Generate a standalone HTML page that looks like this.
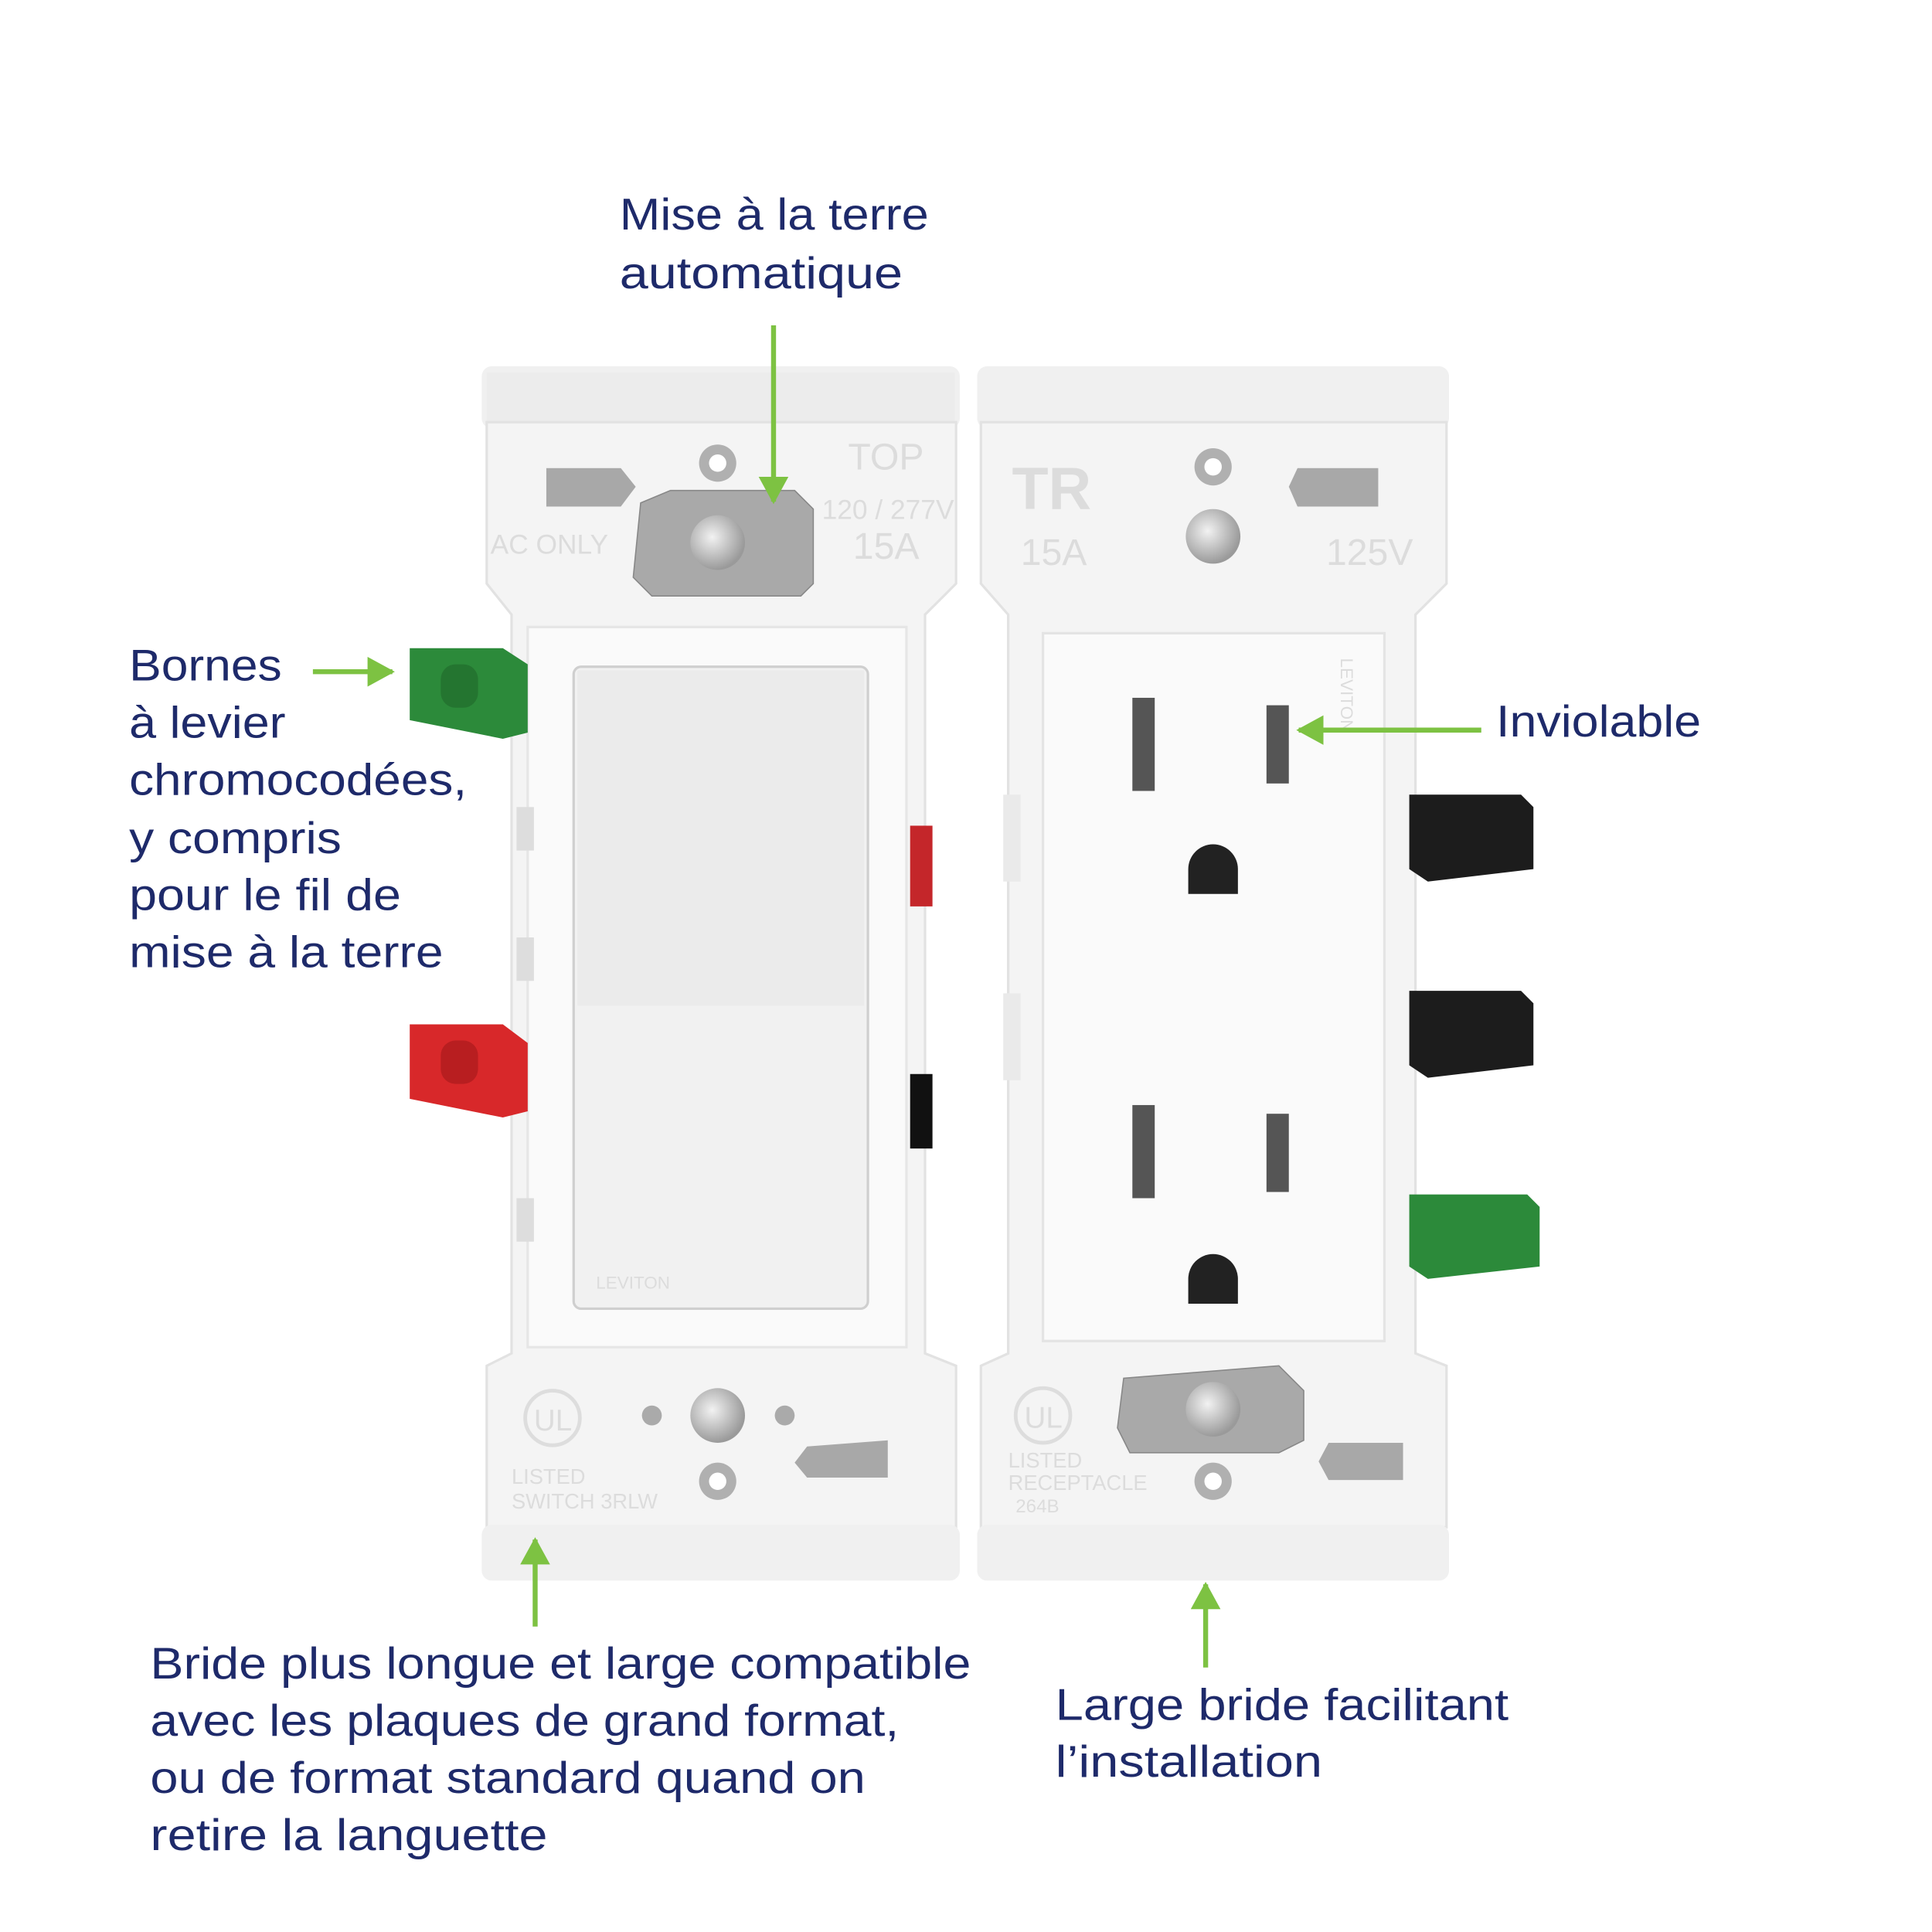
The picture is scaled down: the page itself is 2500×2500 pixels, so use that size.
<!DOCTYPE html>
<html><head><meta charset="utf-8"><style>
html,body{margin:0;padding:0;background:#fff}
svg{display:block}
text{font-family:"Liberation Sans",sans-serif;fill:#1e2a6a}
.lbl{font-size:36px}
.emb{font-family:"Liberation Sans",sans-serif;fill:#dcdcdc}
</style></head><body>
<svg width="2500" height="2500" viewBox="0 0 1556 1556" xmlns="http://www.w3.org/2000/svg">
<rect width="1556" height="1556" fill="#fff"/>
<defs>
<marker id="ah" markerWidth="6" markerHeight="6" refX="5" refY="3" orient="auto" markerUnits="strokeWidth">
<path d="M0,0 L5.5,3 L0,6 Z" fill="#7dc242"/></marker>
<radialGradient id="scr" cx="0.4" cy="0.4" r="0.6"><stop offset="0" stop-color="#f2f2f2"/><stop offset="1" stop-color="#9a9a9a"/></radialGradient>
</defs>

<!-- LEFT SWITCH -->
<g>
<rect x="388" y="295" width="385" height="50" rx="8" fill="#f0f0f0"/>
<rect x="392" y="300" width="377" height="40" fill="#ececec"/>
<path d="M392,340 L770,340 L770,470 L745,495 L745,1090 L770,1100 L770,1230 L392,1230 L392,1100 L412,1090 L412,495 L392,470 Z" fill="#f4f4f4" stroke="#e2e2e2" stroke-width="2"/>
<rect x="388" y="1228" width="385" height="45" rx="8" fill="#f0f0f0"/>
<rect x="425" y="505" width="305" height="580" fill="#fafafa" stroke="#e6e6e6" stroke-width="2"/>
<rect x="462" y="537" width="237" height="517" rx="6" fill="#f1f1f1" stroke="#cfcfcf" stroke-width="2"/>
<rect x="465" y="540" width="231" height="270" fill="#ebebeb"/>
<text x="480" y="1038" font-size="14" class="emb" fill="#d8d8d8">LEVITON</text>
<path d="M516,405 L540,395 L640,395 L655,410 L655,470 L645,480 L525,480 L510,465 Z" fill="#a9a9a9" stroke="#888"/>
<circle cx="578" cy="373" r="15" fill="#b0b0b0"/><circle cx="578" cy="373" r="7" fill="#fff"/>
<circle cx="578" cy="437" r="22" fill="url(#scr)"/>
<path d="M440,377 L500,377 L512,392 L500,408 L440,408 Z" fill="#a8a8a8"/>
<text x="395" y="446" font-size="22" class="emb">AC ONLY</text>
<text x="683" y="378" font-size="30" class="emb">TOP</text>
<text x="662" y="418" font-size="22" class="emb">120 / 277V</text>
<text x="687" y="450" font-size="30" class="emb">15A</text>
<circle cx="578" cy="1140" r="22" fill="url(#scr)"/>
<circle cx="578" cy="1193" r="15" fill="#b0b0b0"/><circle cx="578" cy="1193" r="7" fill="#fff"/>
<circle cx="525" cy="1140" r="8" fill="#aaa"/><circle cx="632" cy="1140" r="8" fill="#aaa"/>
<path d="M650,1165 L715,1160 L715,1190 L650,1190 L640,1178 Z" fill="#a8a8a8"/>
<circle cx="445" cy="1142" r="22" fill="none" stroke="#ddd" stroke-width="3"/>
<text x="430" y="1152" font-size="24" class="emb">UL</text>
<text x="412" y="1195" font-size="17" class="emb">LISTED</text>
<text x="412" y="1215" font-size="17" class="emb">SWITCH 3RLW</text>
<path d="M330,522 L405,522 L425,535 L425,590 L405,595 L330,580 Z" fill="#2c8a3a"/>
<rect x="355" y="535" width="30" height="35" rx="12" fill="#247530"/>
<path d="M330,825 L405,825 L425,840 L425,895 L405,900 L330,885 Z" fill="#d8282a"/>
<rect x="355" y="838" width="30" height="35" rx="12" fill="#b81e20"/>
<rect x="733" y="665" width="18" height="65" fill="#c4262a"/>
<rect x="733" y="865" width="18" height="60" fill="#111"/>
<rect x="416" y="650" width="14" height="35" fill="#ddd"/><rect x="416" y="755" width="14" height="35" fill="#ddd"/>
<rect x="416" y="965" width="14" height="35" fill="#ddd"/>
</g>

<!-- RIGHT RECEPTACLE -->
<g>
<rect x="787" y="295" width="380" height="50" rx="8" fill="#f0f0f0"/>
<path d="M790,340 L1165,340 L1165,470 L1140,495 L1140,1090 L1165,1100 L1165,1230 L790,1230 L790,1100 L812,1090 L812,495 L790,470 Z" fill="#f4f4f4" stroke="#e2e2e2" stroke-width="2"/>
<rect x="787" y="1228" width="380" height="45" rx="8" fill="#f0f0f0"/>
<rect x="840" y="510" width="275" height="570" fill="#fafafa" stroke="#e4e4e4" stroke-width="2"/>
<rect x="912" y="562" width="18" height="75" fill="#555"/>
<rect x="1020" y="568" width="18" height="63" fill="#555"/>
<path d="M957,720 L957,700 A20,20 0 0 1 997,700 L997,720 Z" fill="#222"/>
<rect x="912" y="890" width="18" height="75" fill="#555"/>
<rect x="1020" y="897" width="18" height="63" fill="#555"/>
<path d="M957,1050 L957,1030 A20,20 0 0 1 997,1030 L997,1050 Z" fill="#222"/>
<text x="0" y="0" font-size="14" class="emb" transform="translate(1080,530) rotate(90)">LEVITON</text>
<circle cx="977" cy="376" r="15" fill="#b0b0b0"/><circle cx="977" cy="376" r="7" fill="#fff"/>
<circle cx="977" cy="432" r="22" fill="url(#scr)"/>
<path d="M1045,377 L1110,377 L1110,408 L1045,408 L1038,392 Z" fill="#a8a8a8"/>
<text x="815" y="410" font-size="48" class="emb" font-weight="bold">TR</text>
<text x="822" y="455" font-size="30" class="emb">15A</text>
<text x="1068" y="455" font-size="30" class="emb">125V</text>
<path d="M905,1110 L1030,1100 L1050,1120 L1050,1160 L1030,1170 L910,1170 L900,1150 Z" fill="#a9a9a9" stroke="#888"/>
<circle cx="977" cy="1135" r="22" fill="url(#scr)"/>
<circle cx="977" cy="1193" r="15" fill="#b0b0b0"/><circle cx="977" cy="1193" r="7" fill="#fff"/>
<path d="M1070,1162 L1130,1162 L1130,1192 L1070,1192 L1062,1177 Z" fill="#a8a8a8"/>
<circle cx="840" cy="1140" r="22" fill="none" stroke="#ddd" stroke-width="3"/>
<text x="825" y="1150" font-size="24" class="emb">UL</text>
<text x="812" y="1182" font-size="17" class="emb">LISTED</text>
<text x="812" y="1200" font-size="17" class="emb">RECEPTACLE</text>
<text x="818" y="1218" font-size="15" class="emb">264B</text>
<path d="M1135,640 L1225,640 L1235,650 L1235,700 L1150,710 L1135,700 Z" fill="#1c1c1c"/>
<path d="M1135,798 L1225,798 L1235,808 L1235,858 L1150,868 L1135,858 Z" fill="#1c1c1c"/>
<path d="M1135,962 L1230,962 L1240,972 L1240,1020 L1150,1030 L1135,1020 Z" fill="#2c8a3a"/>
<rect x="808" y="640" width="14" height="70" fill="#eaeaea"/><rect x="808" y="800" width="14" height="70" fill="#eaeaea"/>
</g>

<!-- arrows -->
<g stroke="#7dc242" stroke-width="4" fill="none">
<line x1="623" y1="262" x2="623" y2="404" marker-end="url(#ah)"/>
<line x1="252" y1="541" x2="316" y2="541" marker-end="url(#ah)"/>
<line x1="1193" y1="588" x2="1046" y2="588" marker-end="url(#ah)"/>
<line x1="431" y1="1310" x2="431" y2="1240" marker-end="url(#ah)"/>
<line x1="971" y1="1343" x2="971" y2="1276" marker-end="url(#ah)"/>
</g>

<!-- labels -->
<text class="lbl" x="499" y="185" textLength="249" lengthAdjust="spacingAndGlyphs">Mise à la terre</text>
<text class="lbl" x="499" y="232" textLength="228" lengthAdjust="spacingAndGlyphs">automatique</text>
<text class="lbl" x="104" y="548" textLength="123" lengthAdjust="spacingAndGlyphs">Bornes</text>
<text class="lbl" x="104" y="594" textLength="126" lengthAdjust="spacingAndGlyphs">à levier</text>
<text class="lbl" x="104" y="640" textLength="272" lengthAdjust="spacingAndGlyphs">chromocodées,</text>
<text class="lbl" x="104" y="687" textLength="171" lengthAdjust="spacingAndGlyphs">y compris</text>
<text class="lbl" x="104" y="733" textLength="219" lengthAdjust="spacingAndGlyphs">pour le fil de</text>
<text class="lbl" x="104" y="779" textLength="253" lengthAdjust="spacingAndGlyphs">mise à la terre</text>
<text class="lbl" x="1205" y="593" textLength="165" lengthAdjust="spacingAndGlyphs">Inviolable</text>
<text class="lbl" x="121" y="1352" textLength="661" lengthAdjust="spacingAndGlyphs">Bride plus longue et large compatible</text>
<text class="lbl" x="121" y="1398" textLength="603" lengthAdjust="spacingAndGlyphs">avec les plaques de grand format,</text>
<text class="lbl" x="121" y="1444" textLength="576" lengthAdjust="spacingAndGlyphs">ou de format standard quand on</text>
<text class="lbl" x="121" y="1490" textLength="320" lengthAdjust="spacingAndGlyphs">retire la languette</text>
<text class="lbl" x="850" y="1385" textLength="365" lengthAdjust="spacingAndGlyphs">Large bride facilitant</text>
<text class="lbl" x="850" y="1431" textLength="215" lengthAdjust="spacingAndGlyphs">l’installation</text>
</svg>
</body></html>
